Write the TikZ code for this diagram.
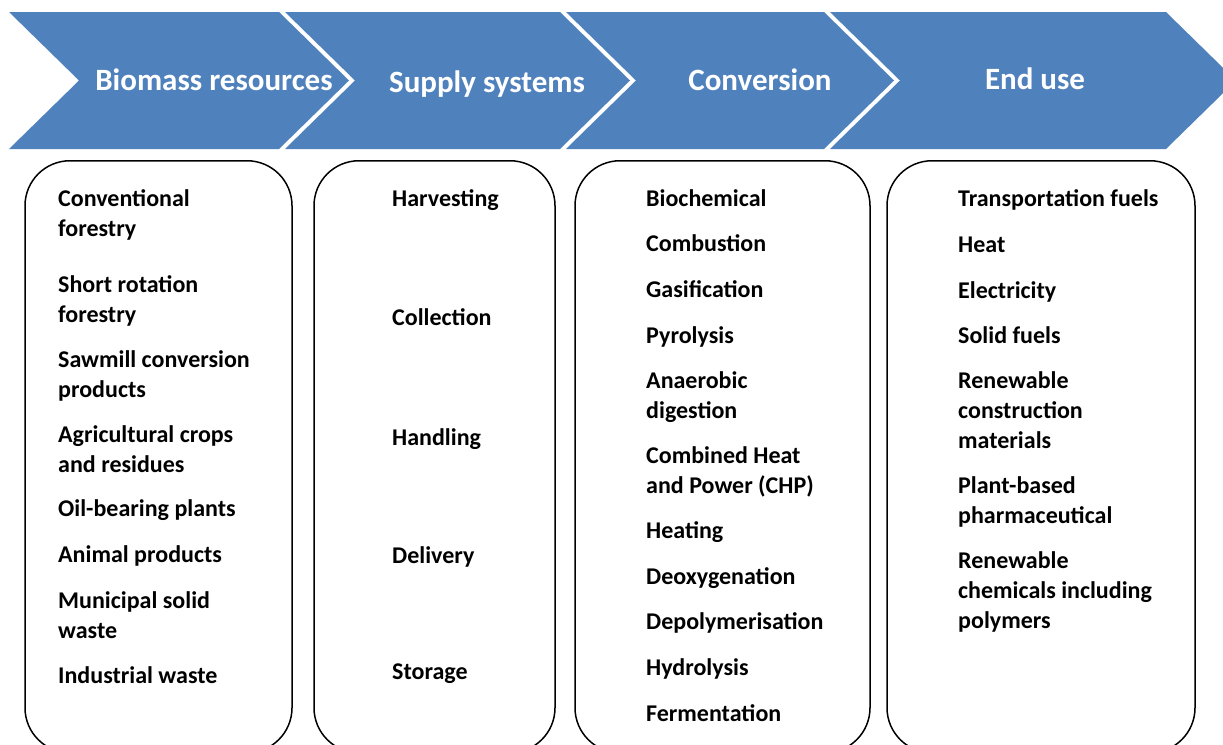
\documentclass[tikz,border=0pt]{standalone}
\usepackage{fontspec}
\setmainfont{Carlito}
\usetikzlibrary{positioning}
\definecolor{stageblue}{HTML}{4F81BD}
\tikzstyle{stage} = [fill=stageblue, draw=none]
\tikzstyle{stagetext} = [text=white, anchor=base, inner sep=0pt, font=\bfseries\fontsize{31}{36}\selectfont]
\tikzstyle{listbox} = [rectangle, rounded corners=45pt, draw=black, line width=1.5pt, minimum height=592pt, anchor=north, inner sep=0pt]
\tikzstyle{item} = [anchor=base west, inner sep=0pt, align=left, font=\bfseries\fontsize{24}{30}\selectfont]

\begin{document}
\begin{tikzpicture}[x=1pt, y=-1pt]
		\useasboundingbox (0,0) rectangle (1223,744);
		\clip (0,0) rectangle (1223,744);
		% stages
		\fill[stage] (9,12) -- (279,12) -- (349,80.5) -- (279,149) -- (9,149) -- (79,80.5) -- cycle;
		\fill[stage] (285,12) -- (560,12) -- (630,80.5) -- (560,149) -- (285,149) -- (355,80.5) -- cycle;
		\fill[stage] (566,12) -- (824,12) -- (894,80.5) -- (824,149) -- (566,149) -- (636,80.5) -- cycle;
		\fill[stage] (830,12) -- (1166,12) -- (1236,80.5) -- (1166,149) -- (830,149) -- (900,80.5) -- cycle;
		\node (bio) [stagetext] at (214,90) {Biomass resources};
		\node (supply) [stagetext] at (487,92) {Supply systems};
		\node (conv) [stagetext] at (760,90) {Conversion};
		\node (enduse) [stagetext] at (1035,89) {End use};
		% boxes
		\node (biobox) [listbox, minimum width=267pt] at (158.5,160) {};
		\node (supplybox) [listbox, minimum width=241pt] at (434.5,160) {};
		\node (convbox) [listbox, minimum width=295pt] at (722.5,160) {};
		\node (endbox) [listbox, minimum width=308pt] at (1041,160) {};
		% biomass resources (y = baseline of the last line)
		\node (bio1) [item] at (58,236) {Conventional\\forestry};
		\node (bio2) [item] at (58,322) {Short rotation\\forestry};
		\node (bio3) [item] at (58,397) {Sawmill conversion\\products};
		\node (bio4) [item] at (58,472) {Agricultural crops\\and residues};
		\node (bio5) [item] at (58,516) {Oil-bearing plants};
		\node (bio6) [item] at (58,562) {Animal products};
		\node (bio7) [item] at (58,638) {Municipal solid\\waste};
		\node (bio8) [item] at (58,683) {Industrial waste};
		% supply systems
		\node (sup1) [item] at (392,206) {Harvesting};
		\node (sup2) [item] at (392,325) {Collection};
		\node (sup3) [item] at (392,445) {Handling};
		\node (sup4) [item] at (392,563) {Delivery};
		\node (sup5) [item] at (392,679) {Storage};
		% conversion
		\node (conv1) [item] at (646,206) {Biochemical};
		\node (conv2) [item] at (646,251) {Combustion};
		\node (conv3) [item] at (646,297) {Gasification};
		\node (conv4) [item] at (646,343) {Pyrolysis};
		\node (conv5) [item] at (646,418) {Anaerobic\\digestion};
		\node (conv6) [item] at (646,493) {Combined Heat\\and Power (CHP)};
		\node (conv7) [item] at (646,538) {Heating};
		\node (conv8) [item] at (646,584) {Deoxygenation};
		\node (conv9) [item] at (646,629) {Depolymerisation};
		\node (conv10) [item] at (646,675) {Hydrolysis};
		\node (conv11) [item] at (646,721) {Fermentation};
		% end use
		\node (end1) [item] at (958,206) {Transportation fuels};
		\node (end2) [item] at (958,252) {Heat};
		\node (end3) [item] at (958,298) {Electricity};
		\node (end4) [item] at (958,343) {Solid fuels};
		\node (end5) [item] at (958,448) {Renewable\\construction\\materials};
		\node (end6) [item] at (958,523) {Plant-based\\pharmaceutical};
		\node (end7) [item] at (958,628) {Renewable\\chemicals including\\polymers};
\end{tikzpicture}
\end{document}
